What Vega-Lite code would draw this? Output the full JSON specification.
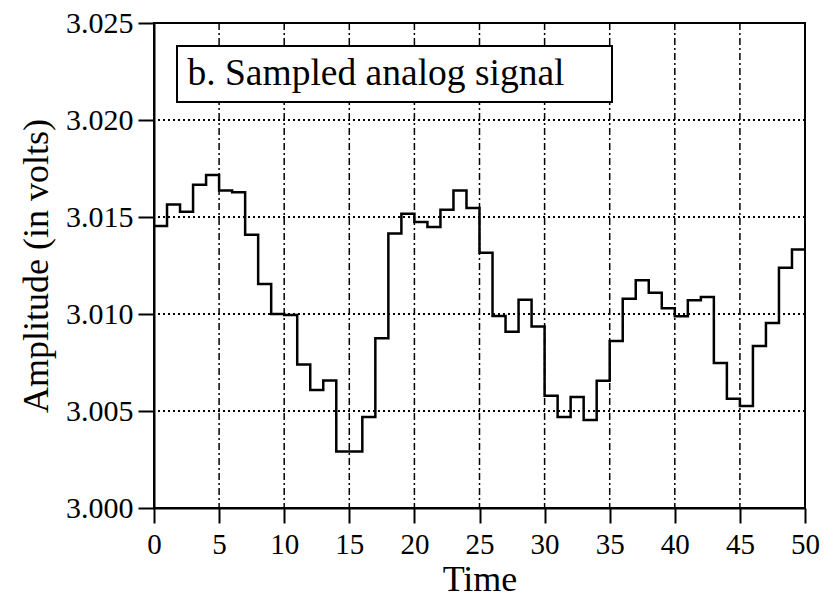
{
  "$schema": "https://vega.github.io/schema/vega-lite/v6.json",
  "autosize": {"type": "none"},
  "padding": {"left": 154, "top": 23, "right": 34, "bottom": 92},
  "width": 651,
  "height": 485,
  "background": "white",
  "config": {
    "font": "Liberation Serif",
    "view": {"stroke": "black", "strokeWidth": 2},
    "axis": {
      "labelFont": "Liberation Serif",
      "titleFont": "Liberation Serif",
      "labelColor": "black",
      "titleColor": "black",
      "titleFontWeight": "normal",
      "domainColor": "black",
      "domainWidth": 2,
      "tickColor": "black",
      "tickWidth": 2,
      "gridColor": "black",
      "gridOpacity": 1,
      "gridWidth": 1.5
    },
    "legend": {
      "labelFont": "Liberation Serif",
      "titleFont": "Liberation Serif"
    }
  },
  "data": {
    "values": [
      {"time": 0, "amplitude": 3.01454, "series": "b. Sampled analog signal"},
      {"time": 1, "amplitude": 3.01564, "series": "b. Sampled analog signal"},
      {"time": 2, "amplitude": 3.01527, "series": "b. Sampled analog signal"},
      {"time": 3, "amplitude": 3.01666, "series": "b. Sampled analog signal"},
      {"time": 4, "amplitude": 3.01717, "series": "b. Sampled analog signal"},
      {"time": 5, "amplitude": 3.01636, "series": "b. Sampled analog signal"},
      {"time": 6, "amplitude": 3.01627, "series": "b. Sampled analog signal"},
      {"time": 7, "amplitude": 3.01408, "series": "b. Sampled analog signal"},
      {"time": 8, "amplitude": 3.01154, "series": "b. Sampled analog signal"},
      {"time": 9, "amplitude": 3.01000, "series": "b. Sampled analog signal"},
      {"time": 10, "amplitude": 3.00995, "series": "b. Sampled analog signal"},
      {"time": 11, "amplitude": 3.00740, "series": "b. Sampled analog signal"},
      {"time": 12, "amplitude": 3.00608, "series": "b. Sampled analog signal"},
      {"time": 13, "amplitude": 3.00657, "series": "b. Sampled analog signal"},
      {"time": 14, "amplitude": 3.00291, "series": "b. Sampled analog signal"},
      {"time": 15, "amplitude": 3.00291, "series": "b. Sampled analog signal"},
      {"time": 16, "amplitude": 3.00469, "series": "b. Sampled analog signal"},
      {"time": 17, "amplitude": 3.00875, "series": "b. Sampled analog signal"},
      {"time": 18, "amplitude": 3.01415, "series": "b. Sampled analog signal"},
      {"time": 19, "amplitude": 3.01517, "series": "b. Sampled analog signal"},
      {"time": 20, "amplitude": 3.01474, "series": "b. Sampled analog signal"},
      {"time": 21, "amplitude": 3.01449, "series": "b. Sampled analog signal"},
      {"time": 22, "amplitude": 3.01538, "series": "b. Sampled analog signal"},
      {"time": 23, "amplitude": 3.01636, "series": "b. Sampled analog signal"},
      {"time": 24, "amplitude": 3.01546, "series": "b. Sampled analog signal"},
      {"time": 25, "amplitude": 3.01316, "series": "b. Sampled analog signal"},
      {"time": 26, "amplitude": 3.00990, "series": "b. Sampled analog signal"},
      {"time": 27, "amplitude": 3.00909, "series": "b. Sampled analog signal"},
      {"time": 28, "amplitude": 3.01073, "series": "b. Sampled analog signal"},
      {"time": 29, "amplitude": 3.00936, "series": "b. Sampled analog signal"},
      {"time": 30, "amplitude": 3.00578, "series": "b. Sampled analog signal"},
      {"time": 31, "amplitude": 3.00469, "series": "b. Sampled analog signal"},
      {"time": 32, "amplitude": 3.00572, "series": "b. Sampled analog signal"},
      {"time": 33, "amplitude": 3.00453, "series": "b. Sampled analog signal"},
      {"time": 34, "amplitude": 3.00656, "series": "b. Sampled analog signal"},
      {"time": 35, "amplitude": 3.00861, "series": "b. Sampled analog signal"},
      {"time": 36, "amplitude": 3.01078, "series": "b. Sampled analog signal"},
      {"time": 37, "amplitude": 3.01174, "series": "b. Sampled analog signal"},
      {"time": 38, "amplitude": 3.01109, "series": "b. Sampled analog signal"},
      {"time": 39, "amplitude": 3.01030, "series": "b. Sampled analog signal"},
      {"time": 40, "amplitude": 3.00988, "series": "b. Sampled analog signal"},
      {"time": 41, "amplitude": 3.01071, "series": "b. Sampled analog signal"},
      {"time": 42, "amplitude": 3.01087, "series": "b. Sampled analog signal"},
      {"time": 43, "amplitude": 3.00748, "series": "b. Sampled analog signal"},
      {"time": 44, "amplitude": 3.00563, "series": "b. Sampled analog signal"},
      {"time": 45, "amplitude": 3.00526, "series": "b. Sampled analog signal"},
      {"time": 46, "amplitude": 3.00835, "series": "b. Sampled analog signal"},
      {"time": 47, "amplitude": 3.00953, "series": "b. Sampled analog signal"},
      {"time": 48, "amplitude": 3.01238, "series": "b. Sampled analog signal"},
      {"time": 49, "amplitude": 3.01333, "series": "b. Sampled analog signal"},
      {"time": 50, "amplitude": 3.01333, "series": "b. Sampled analog signal"}
    ]
  },
  "layer": [
    {
      "mark": {"type": "rule", "strokeDash": [7, 3, 2, 3], "strokeWidth": 1.5, "color": "black"},
      "data": {"values": [{"t": 5}, {"t": 10}, {"t": 15}, {"t": 20}, {"t": 25}, {"t": 30}, {"t": 35}, {"t": 40}, {"t": 45}]},
      "encoding": {
        "x": {"field": "t", "type": "quantitative", "scale": {"domain": [0, 50]}}
      }
    },
    {
      "mark": {"type": "rule", "strokeDash": [2, 3], "strokeWidth": 2, "color": "black"},
      "data": {"values": [{"v": 3.005}, {"v": 3.010}, {"v": 3.015}, {"v": 3.020}]},
      "encoding": {
        "y": {"field": "v", "type": "quantitative", "scale": {"domain": [3.0, 3.025]}}
      }
    },
    {
      "mark": {"type": "line", "interpolate": "step-after", "strokeWidth": 2.5},
      "encoding": {
        "x": {
          "field": "time", "type": "quantitative",
          "scale": {"domain": [0, 50], "nice": false, "zero": false},
          "axis": {
            "title": "Time", "values": [0, 5, 10, 15, 20, 25, 30, 35, 40, 45, 50],
            "grid": false, "labelFontSize": 29, "titleFontSize": 36,
            "tickSize": 15, "labelPadding": 7, "titlePadding": 3, "labelFlush": false
          }
        },
        "y": {
          "field": "amplitude", "type": "quantitative",
          "scale": {"domain": [3.0, 3.025], "nice": false, "zero": false},
          "axis": {
            "title": "Amplitude (in volts)", "values": [3.0, 3.005, 3.01, 3.015, 3.02, 3.025],
            "format": ".3f", "grid": false, "labelFontSize": 30, "titleFontSize": 36,
            "tickSize": 16, "labelPadding": 5, "titlePadding": 10, "labelFlush": false
          }
        },
        "color": {
          "field": "series", "type": "nominal",
          "scale": {"range": ["black"]},
          "legend": {
            "title": "\u00a0",
            "titleOrient": "right",
            "titlePadding": 38,
            "titleFontSize": 2,
            "orient": "top-left",
            "offset": 23,
            "fillColor": "white",
            "strokeColor": "black",
            "padding": 9,
            "symbolType": "square",
            "symbolSize": 0,
            "symbolStrokeWidth": 0,
            "symbolOpacity": 0,
            "labelOffset": -36,
            "labelAlign": "left",
            "labelFontSize": 37.5,
            "labelColor": "black",
            "labelLimit": 1000,
            "encode": {"legend": {"update": {"strokeWidth": {"value": 2}}}}
          }
        }
      }
    }
  ]
}
